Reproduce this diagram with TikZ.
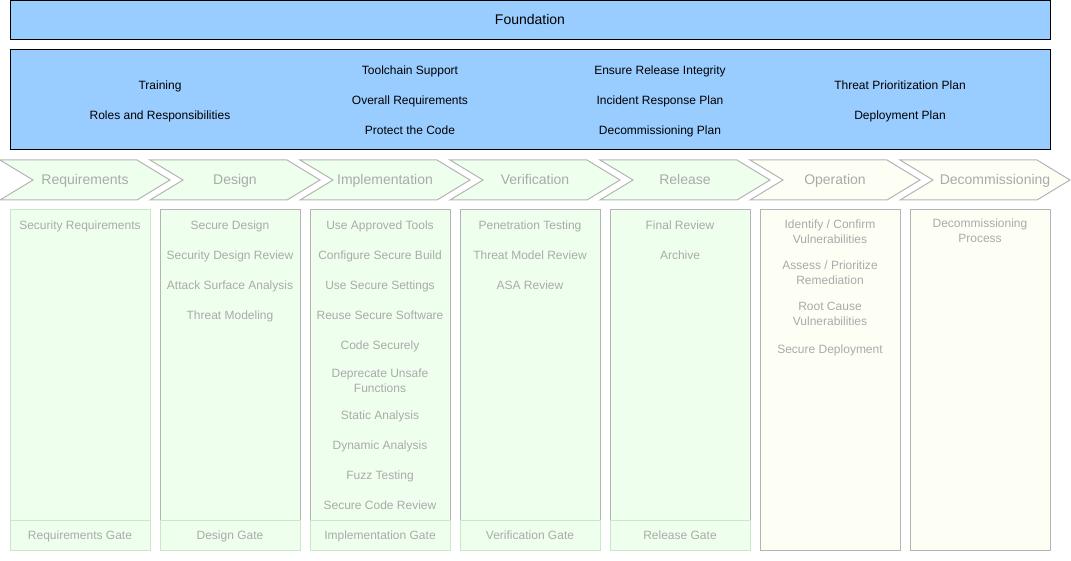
\documentclass[tikz,border=0pt]{standalone}
\usepackage{fontspec}
\setmainfont{Liberation Sans}
\usepackage{xcolor}
\usepackage{tikz}
\usetikzlibrary{positioning, calc}
\definecolor{foundblue}{RGB}{153, 204, 255}
\definecolor{phasegreen}{RGB}{238, 255, 238}
\definecolor{phaseyellow}{RGB}{253, 255, 245}
\definecolor{edgegreen}{RGB}{200, 232, 200}
\definecolor{edgegray}{RGB}{180, 180, 180}
\definecolor{textgray}{RGB}{170, 170, 170}

\begin{document}
\begin{tikzpicture}[x=1pt, y=-1pt,
    band/.style={rectangle, draw=black, fill=foundblue, line width=1pt, inner sep=0pt},
    topic/.style={font=\fontsize{12}{15}\selectfont, text=black, align=center, inner sep=0pt, text height=10pt, text depth=1.2pt},
    chevron/.style={draw=edgegray, line width=1pt},
    stage/.style={font=\fontsize{14}{16}\selectfont, text=textgray, inner sep=0pt, text height=11.5pt, text depth=1.5pt},
    column/.style={rectangle, line width=1pt, minimum width=140pt, minimum height=340pt, inner sep=0pt},
    gate/.style={rectangle, draw=edgegreen, fill=phasegreen, line width=1pt, minimum width=140pt, minimum height=30pt, inner sep=0pt, font=\fontsize{12}{15}\selectfont, text=textgray, text height=10pt, text depth=1.2pt},
    pair/.style={font=\fontsize{12}{15}\selectfont, text=textgray, align=center, inner sep=0pt},
    task/.style={pair, text height=10pt, text depth=1.2pt}
]
    \useasboundingbox (0,0) rectangle (1071,561);

    % foundation bands
    \node[band, minimum width=1040pt, minimum height=39pt, font=\fontsize{14}{16}\selectfont, text height=11.5pt, text depth=1.5pt] (foundation) at (530,20) {Foundation};
    \node[band, minimum width=1040pt, minimum height=100pt] (practices) at (530,100) {};

    \node[topic] (training) at (160,85) {Training};
    \node[topic] (roles) at (160,115) {Roles and Responsibilities};
    \node[topic] (toolchain) at (410,70) {Toolchain Support};
    \node[topic] (overall) at (410,100) {Overall Requirements};
    \node[topic] (protect) at (410,130) {Protect the Code};
    \node[topic] (integrity) at (660,70) {Ensure Release Integrity};
    \node[topic] (incident) at (660,100) {Incident Response Plan};
    \node[topic] (decomplan) at (660,130) {Decommissioning Plan};
    \node[topic] (threatplan) at (900,85) {Threat Prioritization Plan};
    \node[topic] (deployplan) at (900,115) {Deployment Plan};

    % phase chevrons
    \draw[chevron, fill=phasegreen] (0,160) -- (137,160) -- (170,180) -- (137,200) -- (0,200) -- (33,180) -- cycle;
    \draw[chevron, fill=phasegreen] (150,160) -- (287,160) -- (320,180) -- (287,200) -- (150,200) -- (183,180) -- cycle;
    \draw[chevron, fill=phasegreen] (300,160) -- (437,160) -- (470,180) -- (437,200) -- (300,200) -- (333,180) -- cycle;
    \draw[chevron, fill=phasegreen] (450,160) -- (587,160) -- (620,180) -- (587,200) -- (450,200) -- (483,180) -- cycle;
    \draw[chevron, fill=phasegreen] (600,160) -- (737,160) -- (770,180) -- (737,200) -- (600,200) -- (633,180) -- cycle;
    \draw[chevron, fill=phaseyellow] (750,160) -- (887,160) -- (920,180) -- (887,200) -- (750,200) -- (783,180) -- cycle;
    \draw[chevron, fill=phaseyellow] (900,160) -- (1037,160) -- (1070,180) -- (1037,200) -- (900,200) -- (933,180) -- cycle;

    \node[stage] (requirements) at (85,180) {Requirements};
    \node[stage] (design) at (235,180) {Design};
    \node[stage] (implementation) at (385,180) {Implementation};
    \node[stage] (verification) at (535,180) {Verification};
    \node[stage] (release) at (685,180) {Release};
    \node[stage] (operation) at (835,180) {Operation};
    \node[stage] (decommissioning) at (995,180) {Decommissioning};

    % phase columns
    \node[column, draw=edgegreen, fill=phasegreen] (reqcol) at (80,380) {};
    \node[column, draw=edgegray, fill=phasegreen] (descol) at (230,380) {};
    \node[column, draw=edgegray, fill=phasegreen] (impcol) at (380,380) {};
    \node[column, draw=edgegray, fill=phasegreen] (vercol) at (530,380) {};
    \node[column, draw=edgegray, fill=phasegreen] (relcol) at (680,380) {};
    \node[column, draw=edgegray, fill=phaseyellow] (opscol) at (830,380) {};
    \node[column, draw=edgegray, fill=phaseyellow] (deccol) at (980,380) {};

    \node[gate] (reqgate) at (80,535) {Requirements Gate};
    \node[gate] (desgate) at (230,535) {Design Gate};
    \node[gate] (impgate) at (380,535) {Implementation Gate};
    \node[gate] (vergate) at (530,535) {Verification Gate};
    \node[gate] (relgate) at (680,535) {Release Gate};

    % practices per phase
    \node[task] (req1) at (80,225) {Security Requirements};

    \node[task] (des1) at (230,225) {Secure Design};
    \node[task] (des2) at (230,255) {Security Design Review};
    \node[task] (des3) at (230,285) {Attack Surface Analysis};
    \node[task] (des4) at (230,315) {Threat Modeling};

    \node[task] (imp1) at (380,225) {Use Approved Tools};
    \node[task] (imp2) at (380,255) {Configure Secure Build};
    \node[task] (imp3) at (380,285) {Use Secure Settings};
    \node[task] (imp4) at (380,315) {Reuse Secure Software};
    \node[task] (imp5) at (380,345) {Code Securely};
    \node[pair] (imp6) at (380,380.5) {Deprecate Unsafe\\Functions};
    \node[task] (imp7) at (380,415) {Static Analysis};
    \node[task] (imp8) at (380,445) {Dynamic Analysis};
    \node[task] (imp9) at (380,475) {Fuzz Testing};
    \node[task] (imp10) at (380,505) {Secure Code Review};

    \node[task] (ver1) at (530,225) {Penetration Testing};
    \node[task] (ver2) at (530,255) {Threat Model Review};
    \node[task] (ver3) at (530,285) {ASA Review};

    \node[task] (rel1) at (680,225) {Final Review};
    \node[task] (rel2) at (680,255) {Archive};

    \node[pair] (ops1) at (830,232) {Identify / Confirm\\Vulnerabilities};
    \node[pair] (ops2) at (830,273) {Assess / Prioritize\\Remediation};
    \node[pair] (ops3) at (830,314) {Root Cause\\Vulnerabilities};
    \node[task] (ops4) at (830,349) {Secure Deployment};

    \node[pair] (dec1) at (980,231) {Decommissioning\\Process};
\end{tikzpicture}
\end{document}
